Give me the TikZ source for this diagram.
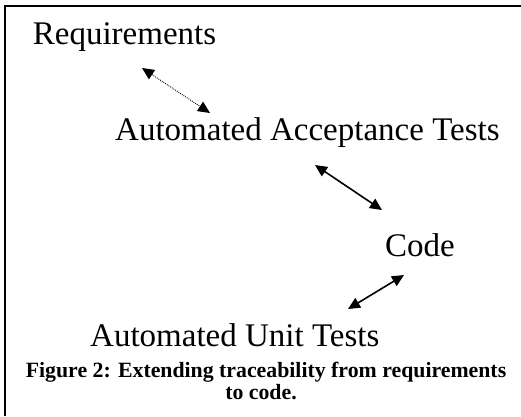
\documentclass[tikz,border=0pt]{standalone}
\usepackage{fontspec}
\setmainfont{Liberation Serif}
\usetikzlibrary{arrows.meta}
\begin{document}
\begin{tikzpicture}[x=1pt,y=-1pt,
  big/.style={anchor=base west,inner sep=0pt,font=\fontsize{33}{40}\selectfont},
  captext/.style={anchor=base,inner sep=0pt,font=\fontsize{21.8}{22}\selectfont\bfseries},
  link/.style={line width=1.6pt,{Triangle[length=12pt,width=11pt]}-{Triangle[length=12pt,width=11pt]}},
  dotlink/.style={line width=0.9pt,dash pattern=on 0.9pt off 1.1pt,{Triangle[length=12pt,width=11pt]}-{Triangle[length=12pt,width=11pt]}}]
\useasboundingbox (0,0) rectangle (521,416);
\draw[line width=2pt] (4.5,416) -- (4.5,5.5) -- (521,5.5);
\node[big] (req) at (32.7,44.3) {Requirements};
\node[big] (aat) at (115,140) {Automated Acceptance Tests};
\node[big] (code) at (385,256.7) {Code};
\node[big] (aut) at (90,346.7) {Automated Unit Tests};
\node[captext] (cap1) at (266,377) {Figure 2: Extending traceability from requirements};
\node[captext] (cap2) at (261,399) {to code.};
\coordinate (d1) at (142,68);
\coordinate (d2) at (210,113);
\coordinate (a1) at (315,165);
\coordinate (a2) at (382,210);
\coordinate (b1) at (404,275);
\coordinate (b2) at (348,309);
\draw[dotlink] (d1) -- (d2);
\draw[link] (a1) -- (a2);
\draw[link] (b1) -- (b2);
\end{tikzpicture}
\end{document}
